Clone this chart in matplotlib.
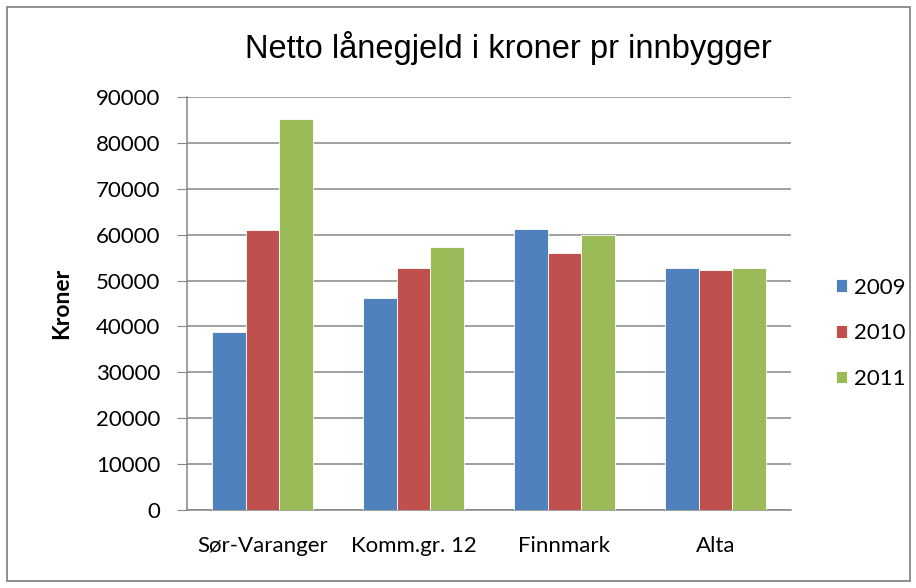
import numpy as np
import matplotlib
matplotlib.use('Agg')
import matplotlib.pyplot as plt
from matplotlib.patches import Rectangle

plt.rcParams['font.family'] = ['Lato', 'DejaVu Sans']

# --- data ---
categories = ['Sør-Varanger', 'Komm.gr. 12', 'Finnmark', 'Alta']
years = ['2009', '2010', '2011']
v2009 = [38700, 46200, 61200, 52800]
v2010 = [61000, 52800, 55900, 52400]
v2011 = [85100, 57300, 59900, 52800]
colors = ['#4F81BD', '#C0504D', '#9BBB59']

fig = plt.figure(figsize=(9.16, 5.88), dpi=100)
ax = fig.add_axes([187/916, 1 - 510/588, 604/916, 413/588])

x = np.arange(len(categories))
w = 0.222
for i, (vals, lab) in enumerate(zip([v2009, v2010, v2011], years)):
    ax.bar(x + (i - 1) * w, vals, width=w, color=colors[i], label=lab,
           edgecolor='white', linewidth=0.6, zorder=3)

ax.set_xlim(-0.5, 3.5)
ax.set_ylim(0, 90000)
ax.set_yticks(np.arange(0, 90001, 10000))
ax.set_xticks(x)
ax.set_xticklabels(categories, fontsize=16)
ax.tick_params(axis='x', length=0, pad=19)
ax.tick_params(axis='y', length=7, color='#868686', pad=12, labelsize=16)

ax.grid(axis='y', color='#868686', linewidth=1.1, zorder=0)
for s in ['top', 'right']:
    ax.spines[s].set_visible(False)
for s in ['left', 'bottom']:
    ax.spines[s].set_color('#868686')
    ax.spines[s].set_linewidth(1.1)

ax.set_ylabel('Kroner', fontsize=16.5, fontweight='bold')
ax.yaxis.set_label_coords(-0.19, 0.5)

ax.legend(loc='center left', bbox_to_anchor=(1.0745, 0.428), frameon=False,
          fontsize=16, handlelength=0.5, handleheight=0.5, handletextpad=0.3,
          labelspacing=1.15, borderaxespad=0, borderpad=0)

fig.text(508/916, 1 - 48/588, 'Netto lånegjeld i kroner pr innbygger',
         ha='center', va='center', fontsize=23.5, family='Liberation Sans')

fig.patches.append(Rectangle((7/916, 7/588), 903/916, 574/588, transform=fig.transFigure,
                             fill=False, edgecolor='#868686', linewidth=1.3))

fig.savefig('out.png', dpi=100)
